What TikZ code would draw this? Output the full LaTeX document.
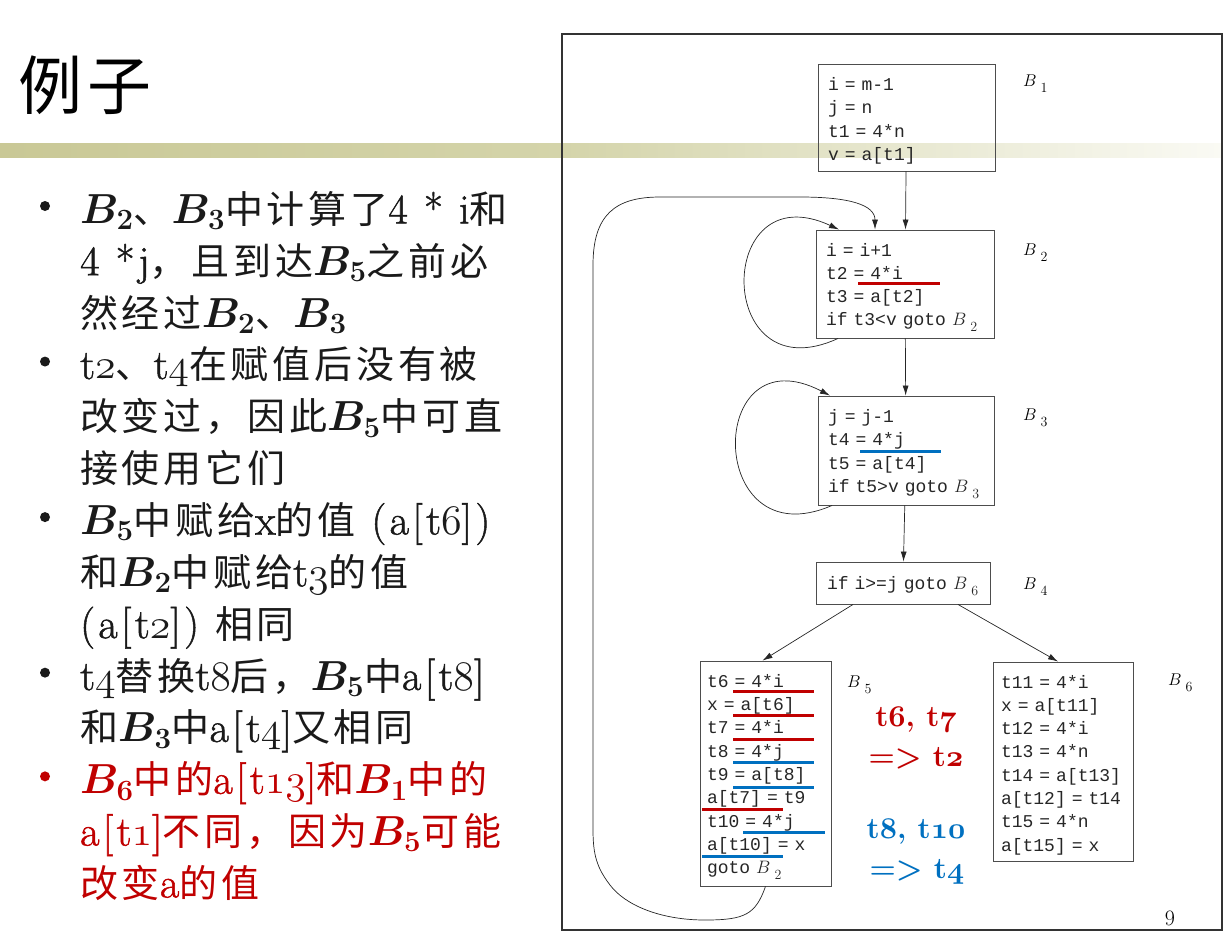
\RequirePackage{fix-cm}
\documentclass[tikz,border=0pt]{standalone}
\usepackage{fontspec}
\setmonofont{Liberation Mono}
\newfontfamily\latin{Latin Modern Roman}[FakeBold=1.2, LetterSpace=8]
\newfontfamily\cjk{Noto Sans CJK SC}[LetterSpace=10]
\newfontfamily\cjktitle{Noto Sans CJK SC}[LetterSpace=8]
\usetikzlibrary{arrows.meta, positioning}
\definecolor{slRed}{HTML}{C00000}
\definecolor{slBlue}{HTML}{0070C0}
\definecolor{barOlive}{HTML}{C9C896}
\definecolor{barMid}{HTML}{D4D4AA}
\definecolor{barLight}{HTML}{FAFAF4}
\definecolor{boxGrey}{HTML}{4D4D4D}
\definecolor{txtBlack}{HTML}{1A1A1A}
\newcommand{\codefont}{\ttfamily\fontsize{18}{23.3}\selectfont}
\newcommand{\zh}[1]{{\cjk\fontsize{38}{44}\selectfont #1}}
\newcommand{\osn}[1]{{\fontencoding{OML}\fontfamily{cmm}\fontshape{it}\selectfont #1}}
\newcommand{\bname}[1]{$B$\kern4pt\raisebox{-6pt}{\rmfamily\fontsize{14}{15}\selectfont #1}}
\tikzset{
  block/.style    = {draw=boxGrey, line width=0.9pt, font=\codefont, text=black!85, align=left, inner ysep=0pt,
                     execute at begin node=\rule{0pt}{20pt}},
  blbl/.style     = {anchor=base west, inner sep=0pt, font=\fontsize{17}{20}\selectfont},
  flow/.style     = {-{Latex[length=10pt, width=6pt]}, line width=0.7pt, black!85},
  redline/.style  = {slRed, line width=3pt},
  blueline/.style = {slBlue, line width=3pt},
  txt/.style      = {anchor=base west, inner sep=0pt, text=txtBlack, font=\latin\fontsize{42}{48}\selectfont\boldmath},
  dot/.style      = {circle, fill=txtBlack, inner sep=0pt, minimum size=10pt},
  hl/.style       = {inner sep=0pt, font=\fontsize{30}{36}\selectfont\bfseries},
}
\begin{document}
\begin{tikzpicture}[x=1pt, y=-1pt]
\useasboundingbox (0,0) rectangle (1230,948);

% ---- slide title and rule --------------------------------------------------
\node[anchor=base west, inner sep=0pt, font=\cjktitle\fontsize{64}{70}\selectfont] (title) at (18,109) {例子};
\shade[left color=barOlive, right color=barMid] (0,143) rectangle (562,157);
\shade[left color=barMid, right color=barLight] (562,143) rectangle (1222,157);

% ---- bullet text -----------------------------------------------------------
\newcommand{\tline}[3][txtBlack]{%
  \node[txt, text=#1] (l#2) at (80,{223.4+51.85*(#2-1)}) {#3};}
\foreach \k in {1,4,7,10}
  \node[dot] at (45,{206+51.85*(\k-1)}) {};
\node[dot, fill=slRed] at (45,{206+51.85*11}) {};

\tline{1}{$B_2$\zh{、}$B_3$\zh{中计算了}4 * i\zh{和}}
\tline{2}{4 *j\zh{，且到达}$B_5$\zh{之前必}}
\tline{3}{\zh{然经过}$B_2$\zh{、}$B_3$}
\tline{4}{t\osn{2}\zh{、}t\osn{4}\zh{在赋值后没有被}}
\tline{5}{\zh{改变过，因此}$B_5$\zh{中可直}}
\tline{6}{\zh{接使用它们}}
\tline{7}{$B_5$\zh{中赋给}x\zh{的值} (a[t\osn{6}])}
\tline{8}{\zh{和}$B_2$\zh{中赋给}t\osn{3}\zh{的值}}
\tline{9}{(a[t\osn{2}]) \zh{相同}}
\tline{10}{t\osn{4}\zh{替换}t\osn{8}\zh{后，}$B_5$\zh{中}a[t\osn{8}]}
\tline{11}{\zh{和}$B_3$\zh{中}a[t\osn{4}]\zh{又相同}}
\tline[slRed]{12}{$B_6$\zh{中的}a[t\osn{13}]\zh{和}$B_1$\zh{中的}}
\tline[slRed]{13}{a[t\osn{1}]\zh{不同，因为}$B_5$\zh{可能}}
\tline[slRed]{14}{\zh{改变}a\zh{的值}}

% ---- flow graph ------------------------------------------------------------
\draw[line width=2pt, black!80] (562,34) rectangle (1222,930);

\node[block, text width=157pt, inner xsep=10pt, minimum height=107pt] (B1) at (906.5,117.5)
  {i~=~m-1\\ j~=~n\\ t1~=~4*n\\ v~=~a[t1]};
\node[block, text width=158pt, inner xsep=10pt, minimum height=108pt] (B2) at (905,284)
  {i~=~i+1\\ t2~=~4*i\\ t3~=~a[t2]\\ if~t3<v~goto~\bname{2}};
\node[block, text width=156pt, inner xsep=10pt, minimum height=109pt] (B3) at (906,450.5)
  {j~=~j-1\\ t4~=~4*j\\ t5~=~a[t4]\\ if~t5>v~goto~\bname{3}};
\node[block, text width=152pt, inner xsep=11pt, minimum height=42pt] (B4) at (903,583)
  {if~i>=j~goto~\bname{6}};
\node[block, text width=117pt, inner xsep=7pt, minimum height=225pt] (B5) at (765.5,773.5)
  {t6~=~4*i\\ x~=~a[t6]\\ t7~=~4*i\\ t8~=~4*j\\ t9~=~a[t8]\\ a[t7]~=~t9\\ t10~=~4*j\\ a[t10]~=~x\\ goto~\bname{2}};
\node[block, text width=124pt, inner xsep=8pt, minimum height=199pt] (B6) at (1063,761.5)
  {t11~=~4*i\\ x~=~a[t11]\\ t12~=~4*i\\ t13~=~4*n\\ t14~=~a[t13]\\ a[t12]~=~t14\\ t15~=~4*n\\ a[t15]~=~x};

\node[blbl] (lB1) at (1023,86) {\bname{1}};
\node[blbl] (lB2) at (1023,255) {\bname{2}};
\node[blbl] (lB3) at (1023,420) {\bname{3}};
\node[blbl] (lB4) at (1023,589) {\bname{4}};
\node[blbl] (lB5) at (847,687) {\bname{5}};
\node[blbl] (lB6) at (1168,685) {\bname{6}};

\draw[flow] (B1) -- (B2);
\draw[flow] (B2) -- (B3);
\draw[flow] (B3) -- (B4);
\draw[flow] ([xshift=-50pt]B4.south) -- ([xshift=-3pt]B5.north);
\draw[flow] ([xshift=55pt]B4.south) -- ([xshift=-5pt]B6.north);
\draw[flow] ([xshift=-67pt]B2.south) .. controls +(-124,57) and +(-125,-58) .. ([xshift=-66pt]B2.north);
\draw[flow] ([xshift=-74pt]B3.south) .. controls +(-127,55) and +(-125,-65) .. ([xshift=-76pt]B3.north);
\draw[flow] (B5.south) .. controls +(-10,28) and +(40,0) .. (705,920)
  .. controls (660,920) and (625,905) .. (610,885)
  .. controls (597,868) and (593,855) .. (593,830) -- (593,265)
  .. controls (593,215) and (615,197) .. (660,197) -- (800,197)
  .. controls (850,197) and (875,205) .. ([xshift=-30pt]B2.north);

% ---- highlights ------------------------------------------------------------
\draw[redline] (858,283) -- (940,283);
\draw[blueline] (860,451) -- (941,451);
\foreach \y in {691,715,739} \draw[redline] (733,\y) -- (814,\y);
\foreach \y in {762,787} \draw[blueline] (733,\y) -- (814,\y);
\draw[redline] (702,809) -- (783,809);
\draw[blueline] (743,832) -- (825,832);
\draw[blueline] (702,856) -- (783,856);

\node[hl, text=slRed] (sub1) at (916,720) {t\osn{6}, t\osn{7}};
\node[hl, text=slRed] (sub2) at (916,758) {=> t\osn{2}};
\node[hl, text=slBlue] (sub3) at (916,832) {t\osn{8}, t\osn{10}};
\node[hl, text=slBlue] (sub4) at (917,872) {=> t\osn{4}};

\node[anchor=base, inner sep=0pt, font=\fontsize{22}{24}\selectfont] (page) at (1170,925) {9};
\end{tikzpicture}
\end{document}
